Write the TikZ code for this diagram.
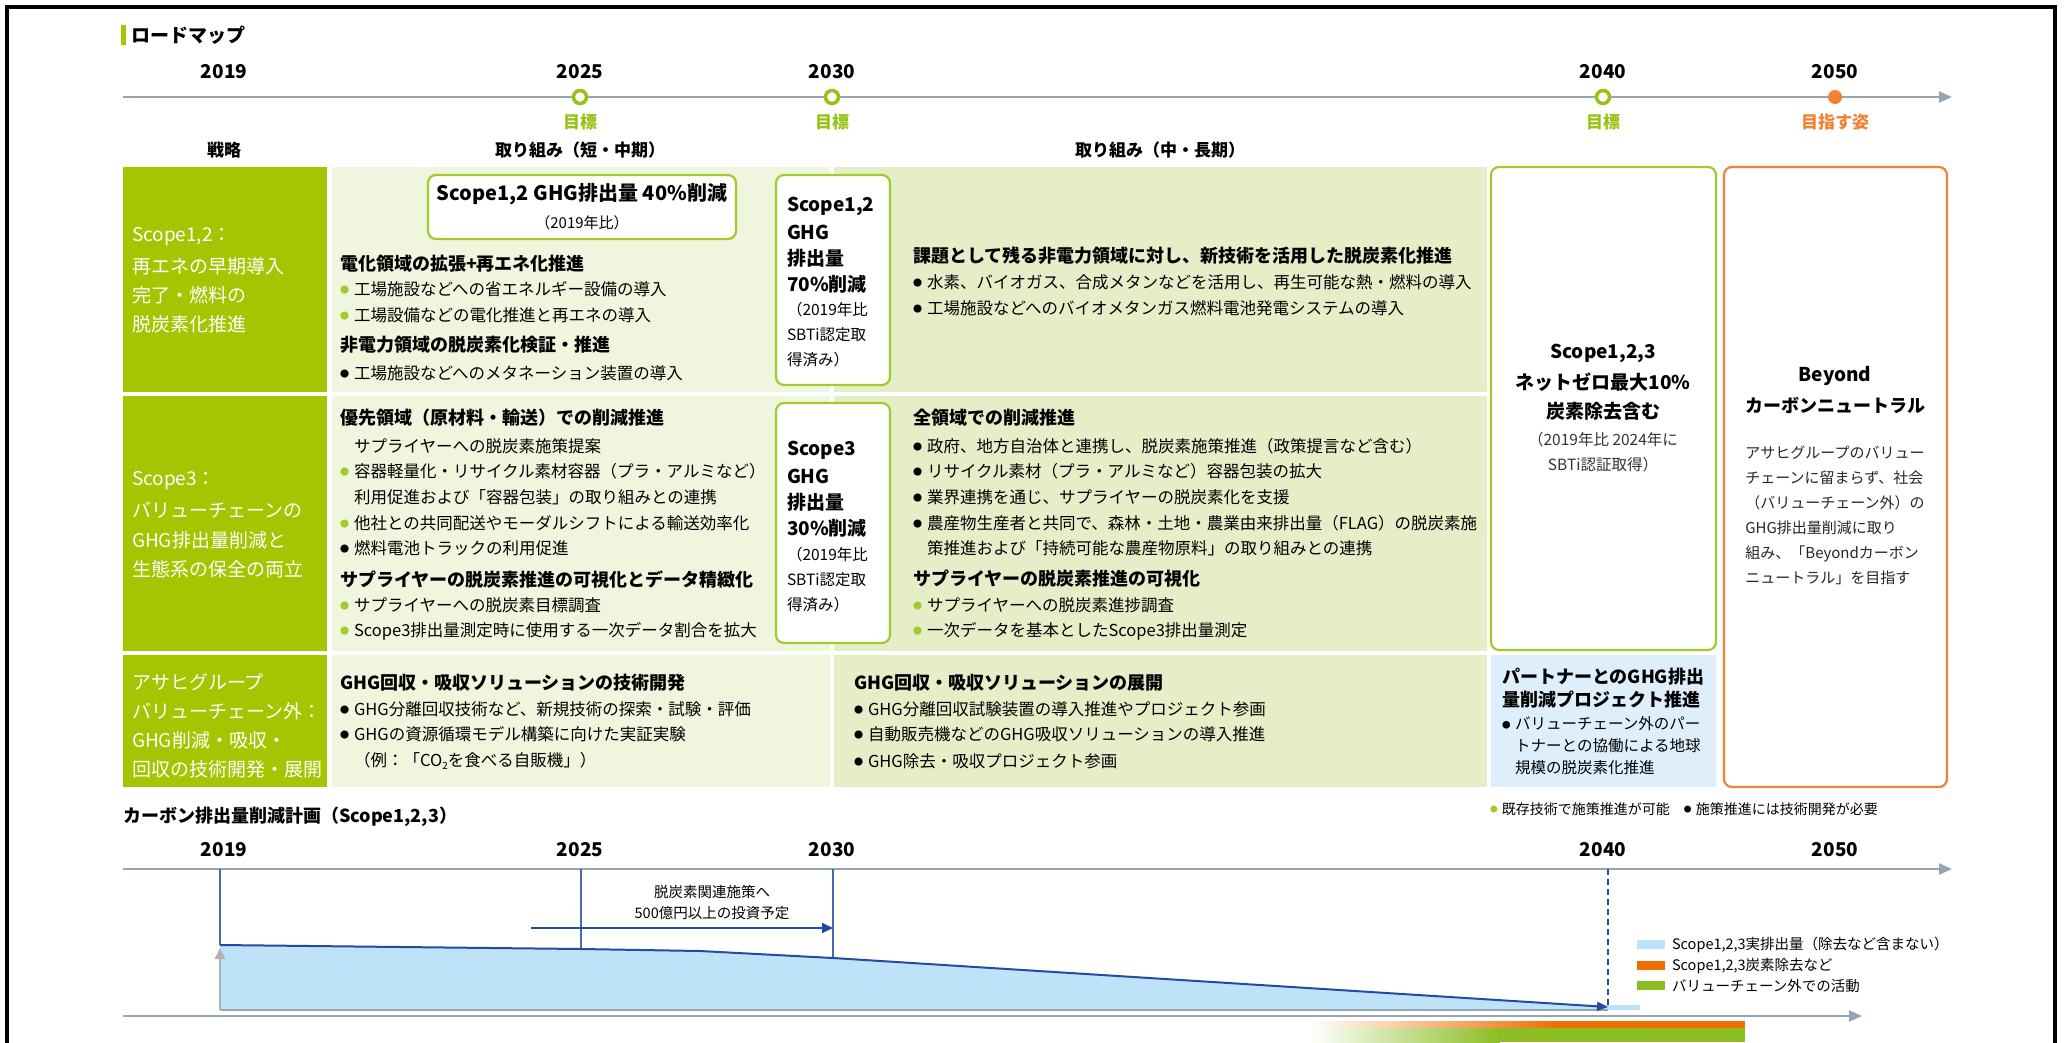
\documentclass[tikz,border=0pt]{standalone}
\usepackage{fontspec}
\usepackage{graphicx}
\usetikzlibrary{arrows.meta}
\setmainfont{Noto Sans CJK JP}
\definecolor{dgreen}{RGB}{165,197,0}
\definecolor{lgA}{RGB}{240,245,221}
\definecolor{lgB}{RGB}{230,238,200}
\definecolor{bgreen}{RGB}{160,202,45}
\definecolor{tgreen}{RGB}{150,195,20}
\definecolor{org}{RGB}{240,130,50}
\definecolor{lblue}{RGB}{222,238,250}
\definecolor{axisc}{RGB}{150,165,178}
\definecolor{fillb}{RGB}{190,227,248}
\definecolor{dblue}{RGB}{35,75,160}
\definecolor{vline}{RGB}{70,105,180}
\definecolor{obar}{RGB}{238,110,0}
\definecolor{gbar}{RGB}{140,190,35}
\newcommand\bl[1]{\textcolor{#1}{\raisebox{0.12em}{\scalebox{0.55}{●}}}\hspace{0.3em}}
\newcommand\ind{\hspace{0.85em}}
\tikzset{
  base/.style={inner sep=0pt, outer sep=0pt},
  lt/.style={base, anchor=west, font=\fontsize{16.5}{20}\selectfont},
  hd/.style={base, anchor=west, font=\bfseries\fontsize{18}{22}\selectfont},
  lc/.style={base, anchor=west, text=white, font=\fontsize{19}{22}\selectfont},
  yr/.style={base, font=\bfseries\fontsize{19}{22}\selectfont},
  colhd/.style={base, font=\bfseries\fontsize{17}{20}\selectfont},
  ms/.style={circle, draw=tgreen, line width=3.5pt, fill=white, minimum size=13pt, inner sep=0pt},
  gbox/.style={draw=bgreen, line width=2.2pt, fill=white, rounded corners=8pt},
  bx/.style={base, anchor=west, font=\bfseries\fontsize{19}{22}\selectfont},
  bxs/.style={base, anchor=west, font=\fontsize{15.5}{19}\selectfont},
  ax/.style={axisc, line width=2.5pt, -{Triangle[length=13pt,width=11pt]}},
  sm/.style={base, anchor=west, font=\fontsize{14.5}{18}\selectfont},
}
\begin{document}
\begin{tikzpicture}[x=1pt,y=-1pt]
\useasboundingbox (0,0) rectangle (2067,1042);
\fill[white] (0,0) rectangle (2067,1042);
\draw[line width=4pt] (7,1046) -- (7,7) -- (2055,7) -- (2055,1046);

% title
\fill[dgreen] (121,25) rectangle (126,45);
\node[hd, font=\bfseries\fontsize{19}{22}\selectfont] (title) at (131,35) {ロードマップ};

% top timeline
\coordinate (tlS) at (123,97);
\coordinate (tlE) at (1952,97);
\draw[ax] (tlS) -- (tlE);
\node[ms] (m25) at (580,97) {};
\node[ms] (m30) at (832,97) {};
\node[ms] (m40) at (1603,97) {};
\node[circle, fill=org, minimum size=14pt, inner sep=0pt] (m50) at (1835,97) {};
\node[yr] (y19) at (224,72) {2019};
\node[yr] (y25) at (580,72) {2025};
\node[yr] (y30) at (832,72) {2030};
\node[yr] (y40) at (1603,72) {2040};
\node[yr] (y50) at (1835,72) {2050};
\node[colhd, text=tgreen] (g25) at (580,122) {目標};
\node[colhd, text=tgreen] (g30) at (832,122) {目標};
\node[colhd, text=tgreen] (g40) at (1603,122) {目標};
\node[colhd, text=org] (g50) at (1835,122) {目指す姿};
\node[colhd] (h1) at (224,150) {戦略};
\node[colhd] (h2) at (580,150) {取り組み（短・中期）};
\node[colhd] (h3) at (1160,150) {取り組み（中・長期）};

% table backgrounds
\fill[dgreen] (123,167) rectangle (327,392);
\fill[dgreen] (123,396) rectangle (327,651);
\fill[dgreen] (123,655) rectangle (327,787);
\fill[lgA] (332,167) rectangle (830,392);
\fill[lgA] (332,396) rectangle (830,651);
\fill[lgA] (332,655) rectangle (830,787);
\fill[lgB] (834,167) rectangle (1487,392);
\fill[lgB] (834,396) rectangle (1487,651);
\fill[lgB] (834,655) rectangle (1487,787);
\fill[lblue] (1491,655) rectangle (1716,787);
\draw[gbox] (1491,167) rectangle (1716,650);
\draw[draw=org, line width=2.2pt, fill=white, rounded corners=8pt] (1724,167) rectangle (1947,787);

% left column
\node[lc] (l11) at (132,237) {Scope1,2：};
\node[lc] (l12) at (132,266) {再エネの早期導入};
\node[lc] (l13) at (132,295) {完了・燃料の};
\node[lc] (l14) at (132,324) {脱炭素化推進};
\node[lc] (l21) at (132,481) {Scope3：};
\node[lc] (l22) at (132,510) {バリューチェーンの};
\node[lc] (l23) at (132,540) {GHG排出量削減と};
\node[lc] (l24) at (132,569) {生態系の保全の両立};
\node[lc] (l31) at (132,682) {アサヒグループ};
\node[lc] (l32) at (132,711) {バリューチェーン外：};
\node[lc] (l33) at (132,740) {GHG削減・吸収・};
\node[lc] (l34) at (132,769) {回収の技術開発・展開};

% target boxes
\draw[gbox] (428,175) rectangle (736,239);
\node[base, font=\bfseries\fontsize{20}{24}\selectfont] (t40a) at (582,194) {Scope1,2 GHG排出量 40\%削減};
\node[base, font=\fontsize{15}{18}\selectfont] (t40b) at (582,223) {（2019年比）};

\draw[gbox] (776,175) rectangle (890,385);
\node[bx] (t70a) at (787,206) {Scope1,2};
\node[bx] (t70b) at (787,232) {GHG};
\node[bx] (t70c) at (787,258) {排出量};
\node[bx] (t70d) at (787,284) {70\%削減};
\node[bxs] (t70e) at (787,310) {（2019年比};
\node[bxs] (t70f) at (787,335) {SBTi認定取};
\node[bxs] (t70g) at (787,360) {得済み）};

\draw[gbox] (776,403) rectangle (890,643);
\node[bx] (t30a) at (787,450) {Scope3};
\node[bx] (t30b) at (787,476) {GHG};
\node[bx] (t30c) at (787,502) {排出量};
\node[bx] (t30d) at (787,528) {30\%削減};
\node[bxs] (t30e) at (787,555) {（2019年比};
\node[bxs] (t30f) at (787,580) {SBTi認定取};
\node[bxs] (t30g) at (787,605) {得済み）};

% row 1 short
\node[hd] (a11) at (340,264) {電化領域の拡張+再エネ化推進};
\node[lt] (a12) at (340,289) {\bl{bgreen}工場施設などへの省エネルギー設備の導入};
\node[lt] (a13) at (340,315) {\bl{bgreen}工場設備などの電化推進と再エネの導入};
\node[hd] (a14) at (340,345) {非電力領域の脱炭素化検証・推進};
\node[lt] (a15) at (340,373) {\bl{black}工場施設などへのメタネーション装置の導入};
% row 1 long
\node[hd] (b11) at (913,256) {課題として残る非電力領域に対し、新技術を活用した脱炭素化推進};
\node[lt] (b12) at (913,282) {\bl{black}水素、バイオガス、合成メタンなどを活用し、再生可能な熱・燃料の導入};
\node[lt] (b13) at (913,308) {\bl{black}工場施設などへのバイオメタンガス燃料電池発電システムの導入};

% row 2 short
\node[hd] (a21) at (340,418) {優先領域（原材料・輸送）での削減推進};
\node[lt] (a22) at (340,446) {\ind サプライヤーへの脱炭素施策提案};
\node[lt] (a23) at (340,471) {\bl{bgreen}容器軽量化・リサイクル素材容器（プラ・アルミなど）};
\node[lt] (a24) at (340,497) {\ind 利用促進および「容器包装」の取り組みとの連携};
\node[lt] (a25) at (340,523) {\bl{bgreen}他社との共同配送やモーダルシフトによる輸送効率化};
\node[lt] (a26) at (340,548) {\bl{black}燃料電池トラックの利用促進};
\node[hd] (a27) at (340,579) {サプライヤーの脱炭素推進の可視化とデータ精緻化};
\node[lt] (a28) at (340,605) {\bl{bgreen}サプライヤーへの脱炭素目標調査};
\node[lt] (a29) at (340,631) {\bl{bgreen}Scope3排出量測定時に使用する一次データ割合を拡大};
% row 2 long
\node[hd] (b21) at (913,418) {全領域での削減推進};
\node[lt] (b22) at (913,446) {\bl{black}政府、地方自治体と連携し、脱炭素施策推進（政策提言など含む）};
\node[lt] (b23) at (913,471) {\bl{black}リサイクル素材（プラ・アルミなど）容器包装の拡大};
\node[lt] (b24) at (913,497) {\bl{black}業界連携を通じ、サプライヤーの脱炭素化を支援};
\node[lt] (b25) at (913,523) {\bl{black}農産物生産者と共同で、森林・土地・農業由来排出量（FLAG）の脱炭素施};
\node[lt] (b26) at (913,548) {\ind 策推進および「持続可能な農産物原料」の取り組みとの連携};
\node[hd] (b27) at (913,579) {サプライヤーの脱炭素推進の可視化};
\node[lt] (b28) at (913,605) {\bl{bgreen}サプライヤーへの脱炭素進捗調査};
\node[lt] (b29) at (913,631) {\bl{bgreen}一次データを基本としたScope3排出量測定};

% row 3 short
\node[hd] (a31) at (340,683) {GHG回収・吸収ソリューションの技術開発};
\node[lt] (a32) at (340,709) {\bl{black}GHG分離回収技術など、新規技術の探索・試験・評価};
\node[lt] (a33) at (340,734) {\bl{black}GHGの資源循環モデル構築に向けた実証実験};
\node[lt] (a34) at (340,761) {\ind （例：「CO\raisebox{-0.15em}{\scalebox{0.6}{2}}を食べる自販機」）};
% row 3 long
\node[hd] (b31) at (854,683) {GHG回収・吸収ソリューションの展開};
\node[lt] (b32) at (854,709) {\bl{black}GHG分離回収試験装置の導入推進やプロジェクト参画};
\node[lt] (b33) at (854,734) {\bl{black}自動販売機などのGHG吸収ソリューションの導入推進};
\node[lt] (b34) at (854,761) {\bl{black}GHG除去・吸収プロジェクト参画};

% 2040 column
\node[base, font=\bfseries\fontsize{19}{22}\selectfont] (c1) at (1603,353) {Scope1,2,3};
\node[base, font=\bfseries\fontsize{19}{22}\selectfont] (c2) at (1603,382) {ネットゼロ最大10\%};
\node[base, font=\bfseries\fontsize{19}{22}\selectfont] (c3) at (1603,411) {炭素除去含む};
\node[base, font=\fontsize{15.5}{19}\selectfont, text=black!80] (c4) at (1603,440) {（2019年比 2024年に};
\node[base, font=\fontsize{15.5}{19}\selectfont, text=black!80] (c5) at (1603,465) {SBTi認証取得）};
\node[hd] (c6) at (1502,677) {パートナーとのGHG排出};
\node[hd] (c7) at (1502,700) {量削減プロジェクト推進};
\node[lt, font=\fontsize{15.5}{19}\selectfont] (c8) at (1502,724) {\bl{black}バリューチェーン外のパー};
\node[lt, font=\fontsize{15.5}{19}\selectfont] (c9) at (1502,746) {\ind トナーとの協働による地球};
\node[lt, font=\fontsize{15.5}{19}\selectfont] (c10) at (1502,768) {\ind 規模の脱炭素化推進};

% 2050 column
\node[base, font=\bfseries\fontsize{19}{22}\selectfont] (d1) at (1835,376) {Beyond};
\node[base, font=\bfseries\fontsize{18}{22}\selectfont] (d2) at (1835,405) {カーボンニュートラル};
\node[base, align=left, anchor=north, font=\fontsize{15}{25}\selectfont, text=black!85] (d3) at (1835,446) {アサヒグループのバリュー\\チェーンに留まらず、社会\\（バリューチェーン外）の\\GHG排出量削減に取り\\組み、「Beyondカーボン\\ニュートラル」を目指す};

% legend under table
\node[sm, font=\fontsize{14}{17}\selectfont] (leg0) at (1490,809) {\bl{bgreen}既存技術で施策推進が可能\quad\bl{black}施策推進には技術開発が必要};

% bottom chart
\node[hd] (btitle) at (123,817) {カーボン排出量削減計画（Scope1,2,3）};
\node[yr] (z19) at (224,850) {2019};
\node[yr] (z25) at (580,850) {2025};
\node[yr] (z30) at (832,850) {2030};
\node[yr] (z40) at (1603,850) {2040};
\node[yr] (z50) at (1835,850) {2050};
\coordinate (baS) at (123,869);
\coordinate (baE) at (1952,869);
\draw[ax] (baS) -- (baE);

\coordinate (p19) at (220,945);
\coordinate (p25) at (581,949);
\coordinate (pm) at (700,951);
\coordinate (p30) at (833,958);
\coordinate (p40) at (1608,1007);
\coordinate (q19) at (220,1010);
\coordinate (q40) at (1608,1010);
\fill[fillb] (p19) -- (p25) -- (pm) -- (p30) -- (p40) -- (q40) -- (q19) -- cycle;
\fill[fillb] (1600,1005) rectangle (1640,1010);
\draw[vline, line width=1.3pt] (220,869) -- (p19);
\draw[vline, line width=1.3pt] (581,869) -- (p25);
\draw[vline, line width=1.3pt] (833,869) -- (p30);
\draw[dblue, line width=1.5pt, dash pattern=on 6pt off 4pt] (1608,869) -- (p40);
\draw[axisc, line width=2.5pt] (q19) -- (q40);
\draw[gray!60, line width=2.5pt, -{Triangle[length=11pt,width=10pt]}] (q19) -- (220,948);
\draw[dblue, line width=2pt, -{Triangle[length=11pt,width=9pt]}] (p19) -- (p25) -- (pm) -- (p30) -- (p40);

\coordinate (invS) at (531,928);
\coordinate (invE) at (833,928);
\draw[dblue, line width=2pt, -{Triangle[length=11pt,width=10pt]}] (invS) -- (invE);
\node[base, font=\fontsize{14.5}{18}\selectfont] (inv1) at (712,892) {脱炭素関連施策へ};
\node[base, font=\fontsize{14.5}{18}\selectfont] (inv2) at (712,913) {500億円以上の投資予定};

\coordinate (bbS) at (123,1016);
\coordinate (bbE) at (1862,1016);
\draw[ax] (bbS) -- (bbE);

\shade[left color=white, right color=obar] (1310,1021) rectangle (1560,1028);
\fill[obar] (1559,1021) rectangle (1745,1028);
\shade[left color=white, right color=gbar] (1310,1028) rectangle (1500,1042);
\fill[gbar] (1499,1028) rectangle (1745,1042);

% chart legend
\fill[fillb] (1637,940) rectangle (1665,949);
\fill[obar] (1637,961) rectangle (1665,970);
\fill[gbar] (1637,981) rectangle (1665,990);
\node[sm] (lg1) at (1672,945) {Scope1,2,3実排出量（除去など含まない）};
\node[sm] (lg2) at (1672,966) {Scope1,2,3炭素除去など};
\node[sm] (lg3) at (1672,986) {バリューチェーン外での活動};
\end{tikzpicture}
\end{document}
